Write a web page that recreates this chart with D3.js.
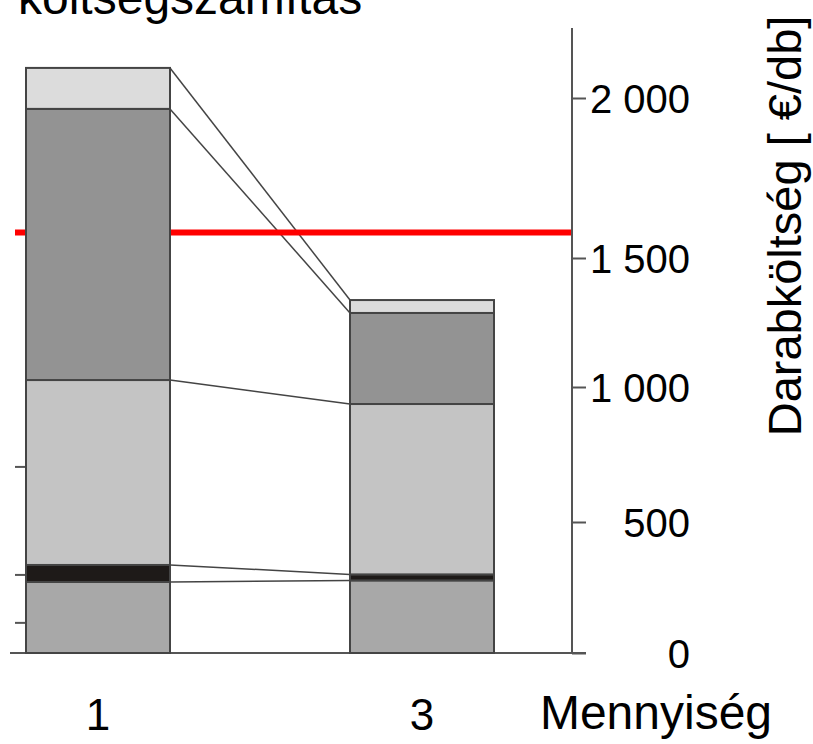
<!DOCTYPE html>
<html>
<head>
<meta charset="utf-8">
<script src="https://cdn.jsdelivr.net/npm/d3@7"></script>
<style>
  body { margin: 0; background: #fff; }
  svg { display: block; font-family: "Liberation Sans", Arial, sans-serif; }
</style>
</head>
<body>
<div id="chart"></div>
<script>
// quantities and stacked cost segments (bottom to top), €/db
const quantities = [1, 3];
const segmentNames = ["anyag", "egyéb", "gyártás", "általános", "felső"];
const segmentsQ1 = [271, 65, 691, 939, 128];
const segmentsQ3 = [277, 23, 637, 350, 50];
const limitCost = 1580;
const yTicks = [0, 500, 1000, 1500, 2000];
const leftStubs = [704, 298, 115];

const segmentColors = ["#a8a8a8", "#1e1a18", "#c4c4c4", "#939393", "#dcdcdc"];

const w = 813;
const h = 744;
const barWidth = 144;

const svg = d3
  .select("#chart")
  .append("svg")
  .attr("width", w)
  .attr("height", h);

// the original axis is not evenly spaced, so piecewise scale
const yScale = d3
  .scaleLinear()
  .domain(yTicks)
  .range([653, 522, 387, 258, 98]);
const xScale = d3.scaleLinear().domain([1, 3]).range([98, 422]);
const axisX = 572;

const stacks = [segmentsQ1, segmentsQ3].map((segs, i) => {
  let acc = 0;
  return segs.map((v, j) => {
    const y0 = acc;
    acc += v;
    return { q: quantities[i], name: segmentNames[j], y0: y0, y1: acc, idx: j };
  });
});

// title, cut at top
svg
  .append("text")
  .attr("x", 18)
  .attr("y", 14)
  .style("font-size", "48px")
  .text("költségszámítás");

// baseline
svg
  .append("line")
  .attr("x1", 10)
  .attr("x2", axisX + 14)
  .attr("y1", yScale(0))
  .attr("y2", yScale(0))
  .attr("stroke", "#555")
  .attr("stroke-width", 2);

// stubs of the neighbouring chart
svg
  .selectAll(".stub")
  .data(leftStubs)
  .enter()
  .append("line")
  .attr("class", "stub")
  .attr("x1", 15)
  .attr("x2", 25)
  .attr("y1", (d) => yScale(d))
  .attr("y2", (d) => yScale(d))
  .attr("stroke", "#555")
  .attr("stroke-width", 2);

// connectors between stack boundaries
const bounds = stacks[0].map((s, j) => ({ a: s.y1, b: stacks[1][j].y1 }));
svg
  .selectAll(".conn")
  .data(bounds)
  .enter()
  .append("line")
  .attr("class", "conn")
  .attr("x1", xScale(1) + barWidth / 2)
  .attr("x2", xScale(3) - barWidth / 2)
  .attr("y1", (d) => yScale(d.a))
  .attr("y2", (d) => yScale(d.b))
  .attr("stroke", "#444")
  .attr("stroke-width", 1.5);

// red limit line
svg
  .append("line")
  .attr("x1", 15)
  .attr("x2", axisX)
  .attr("y1", yScale(limitCost))
  .attr("y2", yScale(limitCost))
  .attr("stroke", "#ff0000")
  .attr("stroke-width", 6);

// bars
svg
  .selectAll(".seg")
  .data(stacks.flat())
  .enter()
  .append("rect")
  .attr("class", "seg")
  .attr("x", (d) => xScale(d.q) - barWidth / 2)
  .attr("y", (d) => yScale(d.y1))
  .attr("width", barWidth)
  .attr("height", (d) => yScale(d.y0) - yScale(d.y1))
  .attr("fill", (d) => segmentColors[d.idx])
  .attr("stroke", "#444")
  .attr("stroke-width", 2);

// right axis
const fmt = d3.formatLocale({ decimal: ",", thousands: " ", grouping: [3], currency: ["", " €"] }).format(",");
svg
  .append("line")
  .attr("x1", axisX)
  .attr("x2", axisX)
  .attr("y1", 28)
  .attr("y2", yScale(0))
  .attr("stroke", "#555")
  .attr("stroke-width", 2);
const yAxis = d3
  .axisRight(yScale)
  .tickValues(yTicks)
  .tickSize(14)
  .tickPadding(0)
  .tickFormat((d) => fmt(d));
const gy = svg
  .append("g")
  .attr("id", "y-axis")
  .attr("transform", `translate(${axisX},0)`)
  .call(yAxis);
gy.select(".domain").remove();
gy.selectAll(".tick line").attr("stroke", "#555").attr("stroke-width", 2);
gy.selectAll(".tick text")
  .attr("x", 118)
  .attr("dy", "0.36em")
  .attr("text-anchor", "end")
  .attr("fill", "#000")
  .style("font-size", "40px")
  .style("font-family", "'Liberation Sans', Arial, sans-serif");

// x labels
svg
  .selectAll(".qlabel")
  .data(quantities)
  .enter()
  .append("text")
  .attr("class", "qlabel")
  .attr("x", (d) => xScale(d))
  .attr("y", 730)
  .attr("text-anchor", "middle")
  .style("font-size", "44px")
  .text((d) => d);

svg
  .append("text")
  .attr("x", 656)
  .attr("y", 729)
  .attr("text-anchor", "middle")
  .style("font-size", "48px")
  .text("Mennyiség");

svg
  .append("text")
  .attr("transform", "translate(801,226) rotate(-90)")
  .attr("text-anchor", "middle")
  .style("font-size", "47px")
  .text("Darabköltség [ €/db]");
</script>
</body>
</html>
